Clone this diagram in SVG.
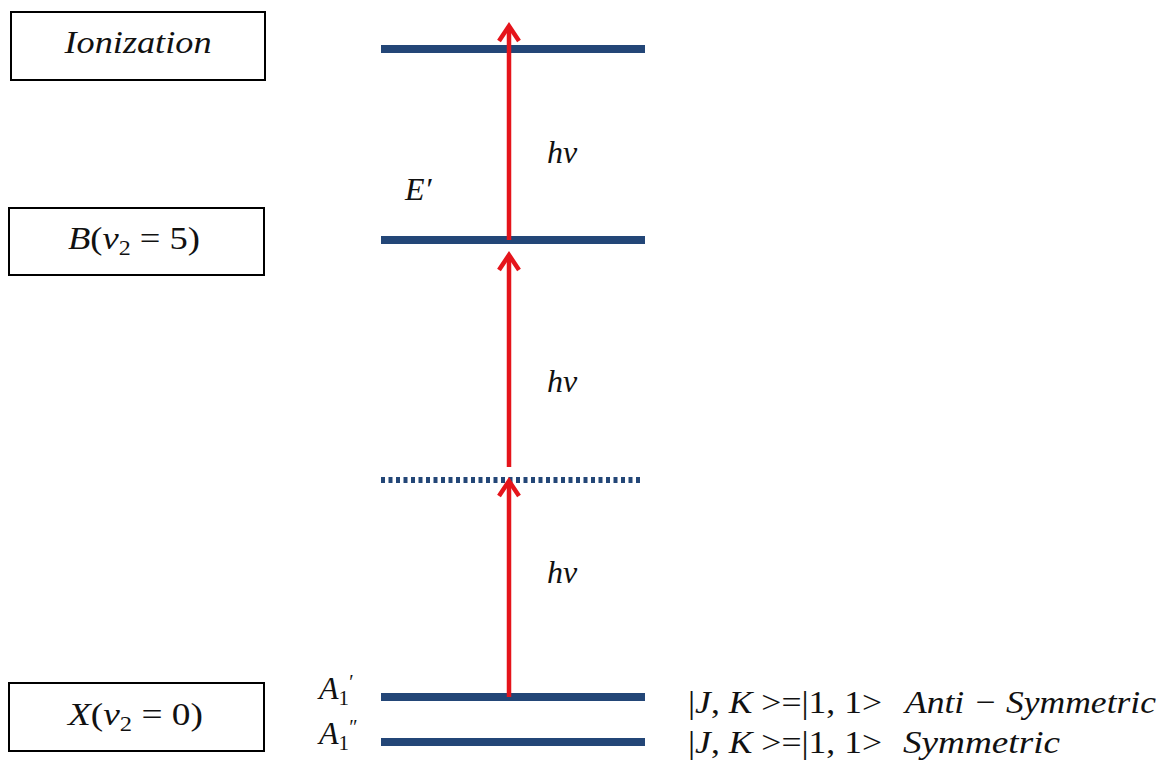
<svg xmlns="http://www.w3.org/2000/svg" width="1164" height="775" viewBox="0 0 1164 775">
<style>
.box{fill:#fff;stroke:#000;stroke-width:2}
.lvl{stroke:#234677;stroke-width:8;fill:none}
.dot{stroke:#234677;stroke-width:6;stroke-dasharray:4 3.5;fill:none}
.arr{stroke:#e5141b;stroke-width:4.5;fill:none}
.t{font-family:"Liberation Serif",serif;font-size:32px;fill:#111}
.i{font-style:italic}
.sub{font-size:21px}
</style>
<defs>
<marker id="ah" markerUnits="userSpaceOnUse" markerWidth="30" markerHeight="30" viewBox="-20 -15 30 30" refX="0" refY="0" orient="auto">
<path d="M -15 -10 L 0 0 L -15 10" fill="none" stroke="#e5141b" stroke-width="4.5" stroke-linejoin="miter"/>
</marker>
</defs>
<rect width="1164" height="775" fill="#fff"/>

<g id="box-ionization">
<rect class="box" x="11" y="12" width="254" height="68"/>
<text class="t i" x="138" y="53" text-anchor="middle" font-size="35" textLength="147" lengthAdjust="spacingAndGlyphs">Ionization</text>
</g>
<g id="box-b">
<rect class="box" x="9" y="208" width="255" height="67"/>
<text class="t" x="68" y="249" textLength="132" lengthAdjust="spacingAndGlyphs"><tspan class="i">B</tspan>(<tspan class="i">ν</tspan><tspan class="sub" dy="6">2</tspan><tspan dy="-6"> = 5)</tspan></text>
</g>
<g id="box-x">
<rect class="box" x="9" y="683" width="255" height="68"/>
<text class="t" x="68" y="725" textLength="135" lengthAdjust="spacingAndGlyphs"><tspan class="i">X</tspan>(<tspan class="i">ν</tspan><tspan class="sub" dy="6">2</tspan><tspan dy="-6"> = 0)</tspan></text>
</g>

<g id="level-ionization"><line class="lvl" x1="381" y1="49" x2="645" y2="49"/></g>
<g id="level-b"><line class="lvl" x1="381" y1="240" x2="645" y2="240"/>
<text class="t i" x="405" y="200" font-size="29">E′</text></g>
<g id="level-virtual"><line class="dot" x1="381" y1="480" x2="642" y2="480"/></g>
<g id="level-a1p"><line class="lvl" x1="381" y1="697" x2="645" y2="697"/>
<text class="t i" x="319" y="699" font-size="28">A<tspan class="sub" font-style="normal" font-size="19" dy="6">1</tspan><tspan dx="-1" dy="-16" font-size="20">′</tspan></text>
<text class="t" x="688" y="713" textLength="194" lengthAdjust="spacingAndGlyphs">|<tspan class="i">J</tspan>, <tspan class="i">K</tspan> &gt;=|1, 1&gt;</text>
<text class="t i" x="905" y="713" textLength="251" lengthAdjust="spacingAndGlyphs">Anti − Symmetric</text>
</g>
<g id="level-a1pp"><line class="lvl" x1="381" y1="742" x2="645" y2="742"/>
<text class="t i" x="319" y="744" font-size="28">A<tspan class="sub" font-style="normal" font-size="19" dy="6">1</tspan><tspan dx="-1" dy="-16" font-size="20">″</tspan></text>
<text class="t" x="688" y="753" textLength="194" lengthAdjust="spacingAndGlyphs">|<tspan class="i">J</tspan>, <tspan class="i">K</tspan> &gt;=|1, 1&gt;</text>
<text class="t i" x="903" y="753" textLength="157" lengthAdjust="spacingAndGlyphs">Symmetric</text>
</g>

<g id="connectors">
<line class="arr" x1="509" y1="697" x2="509" y2="481" marker-end="url(#ah)"/>
<line class="arr" x1="509" y1="467" x2="509" y2="255" marker-end="url(#ah)"/>
<line class="arr" x1="509" y1="240" x2="509" y2="26" marker-end="url(#ah)"/>
<text class="t i" x="547" y="163" font-size="34">hν</text>
<text class="t i" x="547" y="392" font-size="34">hν</text>
<text class="t i" x="547" y="583" font-size="34">hν</text>
</g>
</svg>
